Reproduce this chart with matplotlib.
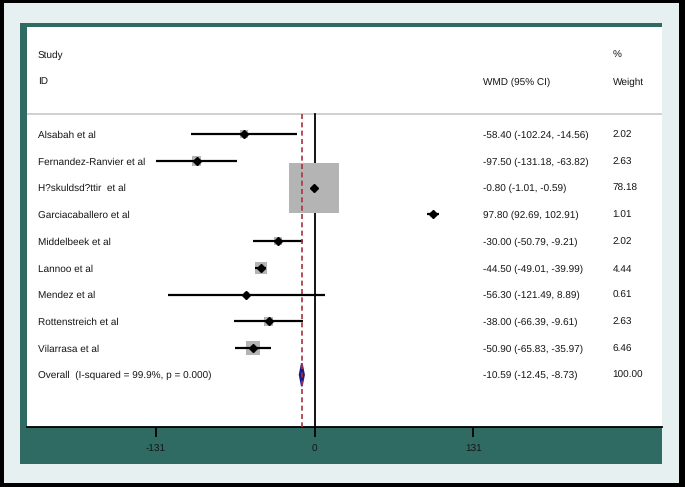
import matplotlib.pyplot as plt
from matplotlib.patches import Rectangle, Polygon
import matplotlib.transforms as mtransforms
import numpy as np

plt.rcParams['font.family'] = ['Liberation Sans', 'DejaVu Sans']
plt.rcParams['text.hinting'] = 'no_hinting'
plt.rcParams['text.hinting_factor'] = 1

# Data
studies = ['Alsabah et al', 'Fernandez-Ranvier et al', 'H?skuldsd?ttir  et al',
           'Garciacaballero et al', 'Middelbeek et al', 'Lannoo et al',
           'Mendez et al', 'Rottenstreich et al', 'Vilarrasa et al']
wmd = [-58.40, -97.50, -0.80, 97.80, -30.00, -44.50, -56.30, -38.00, -50.90]
ci_low = [-102.24, -131.18, -1.01, 92.69, -50.79, -49.01, -121.49, -66.39, -65.83]
ci_high = [-14.56, -63.82, -0.59, 102.91, -9.21, -39.99, 8.89, -9.61, -35.97]
weights = [2.02, 2.63, 78.18, 1.01, 2.02, 4.44, 0.61, 2.63, 6.46]

overall_label = 'Overall  (I-squared = 99.9%, p = 0.000)'
overall = -10.59
overall_low = -12.45
overall_high = -8.73

xticks = [-131, 0, 131]

# Colours
black = '#000000'
frame_bg = '#E7F0F0'
teal = '#2F6B62'
box_gray = '#B4B4B4'
sep_gray = '#C8C8C8'
red = '#A8323C'
navy = '#1B1B8A'
text_c = '#151515'

W, H = 685, 487
fig = plt.figure(figsize=(W / 100, H / 100), dpi=100)
fig.patch.set_facecolor(black)


def fig_rect(x0, y0, x1, y1, color):
    # pixel box (top-left origin) -> figure patch
    fig.patches.append(Rectangle((x0 / W, 1 - y1 / H), (x1 - x0) / W, (y1 - y0) / H,
                                 transform=fig.transFigure, facecolor=color,
                                 edgecolor='none', zorder=-10))


fig_rect(4, 3, 679, 483, frame_bg)
fig_rect(20, 23, 662, 464, teal)

ax_l, ax_r, ax_t, ax_b = 27, 662, 27, 427
ax = fig.add_axes([ax_l / W, 1 - ax_b / H, (ax_r - ax_l) / W, (ax_b - ax_t) / H])
ax.set_facecolor('white')

px_per_unit = 1.2111
zero_px = 314.65
row_px = 26.72
row0_px = 134.3
ax.set_xlim((ax_l - zero_px) / px_per_unit, (ax_r - zero_px) / px_per_unit)
ax.set_ylim((ax_b - row0_px) / row_px, (ax_t - row0_px) / row_px)

rows = np.arange(len(studies))
overall_row = len(studies)
sep_y = -0.75
bottom = ax.get_ylim()[0]

# separator and reference lines
ax.axhline(sep_y, color=sep_gray, lw=1.2, zorder=1)
ax.plot([0, 0], [sep_y, bottom], color=black, lw=1.3, zorder=2)
ax.plot([overall, overall], [sep_y, bottom], color=red, lw=1.2,
        ls=(0, (3, 2)), zorder=6)

# weight boxes (area proportional to weight)
box_px_max = 49.7
for r, est, w in zip(rows, wmd, weights):
    side = box_px_max * np.sqrt(w / max(weights))
    bw = side / px_per_unit
    bh = side / row_px
    ax.add_patch(Rectangle((est - bw / 2, r - bh / 2), bw, bh,
                           facecolor=box_gray, edgecolor='none', zorder=3))

# confidence intervals and point estimates
for r, lo, hi in zip(rows, ci_low, ci_high):
    ax.plot([lo, hi], [r, r], color=black, lw=1.6, solid_capstyle='butt', zorder=4)
ax.plot(wmd, rows, ls='none', marker='D', ms=3.6, color=black, zorder=5)

# overall diamond
dh = 0.43
ax.add_patch(Polygon([(overall_low, overall_row), (overall, overall_row - dh),
                      (overall_high, overall_row), (overall, overall_row + dh)],
                     closed=True, facecolor=navy, edgecolor=navy, lw=1.2, zorder=5))

# text columns
trans = mtransforms.blended_transform_factory(ax.transAxes, ax.transData)
x_lab, x_est, x_wt = 0.0173, 0.718, 0.922
fs = 7.1
kw = dict(transform=trans, fontsize=fs, color=text_c, va='center_baseline')

ax.text(x_lab, -3, 'Study', **kw)
ax.text(x_lab, -2, 'ID', **kw)
ax.text(x_est, -2, 'WMD (95% CI)', **kw)
ax.text(x_wt, -3, '%', **kw)
ax.text(x_wt, -2, 'Weight', **kw)

for r, name, est, lo, hi, w in zip(rows, studies, wmd, ci_low, ci_high, weights):
    ax.text(x_lab, r, name, **kw)
    ax.text(x_est, r, f'{est:.2f} ({lo:.2f}, {hi:.2f})', **kw)
    ax.text(x_wt, r, f'{w:.2f}', **kw)

ax.text(x_lab, overall_row, overall_label, **kw)
ax.text(x_est, overall_row, f'{overall:.2f} ({overall_low:.2f}, {overall_high:.2f})', **kw)
ax.text(x_wt, overall_row, f'{sum(weights):.2f}', **kw)

# axis styling
for side in ['top', 'left', 'right']:
    ax.spines[side].set_visible(False)
ax.spines['bottom'].set_color(black)
ax.spines['bottom'].set_linewidth(1.3)
ax.set_xticks(xticks)
ax.set_xticklabels([str(t) for t in xticks])
ax.tick_params(axis='x', direction='out', length=7.5, width=1.3, color=black,
               labelsize=7, labelcolor=text_c, pad=5.5)
ax.set_yticks([])

fig.savefig('out.png', dpi=100, facecolor=fig.get_facecolor())
